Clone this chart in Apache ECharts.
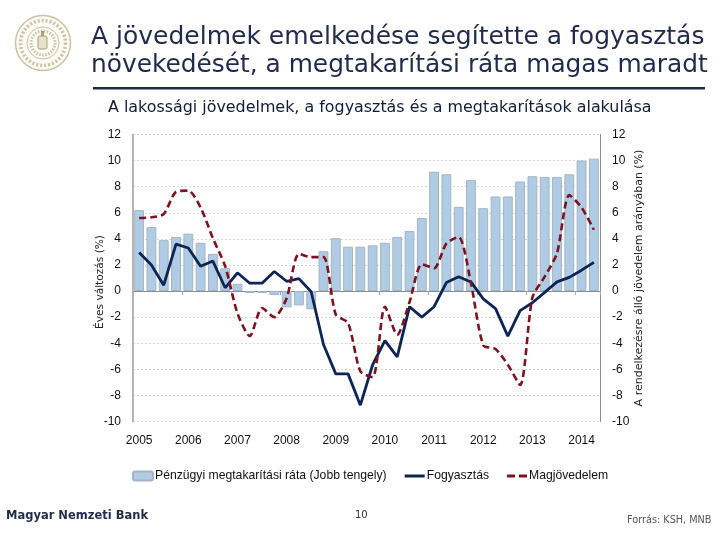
<!DOCTYPE html>
<html><head><meta charset="utf-8">
<style>html,body{margin:0;padding:0;background:#fff}#c{width:720px;height:540px}</style>
<script src="https://cdn.jsdelivr.net/npm/echarts@6/dist/echarts.min.js"></script>
</head><body><div id="c"></div>
<script>
const years = ['2005','2006','2007','2008','2009','2010','2011','2012','2013','2014'];
const categories = years.flatMap(y => [y, y+' Q2', y+' Q3', y+' Q4']).slice(0, 38);
const savingsRate = [6.2,4.9,3.9,4.15,4.4,3.7,2.85,1.75,0.55,-0.15,-0.15,-0.3,-1.25,-1.1,-1.4,3.05,4.05,3.4,3.4,3.5,3.7,4.15,4.6,5.6,9.15,8.95,6.45,8.5,6.35,7.25,7.25,8.4,8.8,8.75,8.75,8.95,10,10.15];
const consumption = [2.95,2.0,0.45,3.6,3.3,1.9,2.3,0.25,1.4,0.6,0.6,1.5,0.75,0.95,-0.05,-4.1,-6.35,-6.35,-8.75,-5.65,-3.8,-5.05,-1.2,-2.0,-1.2,0.65,1.1,0.7,-0.6,-1.35,-3.45,-1.5,-0.9,-0.1,0.7,1.05,1.6,2.2];
const coreIncome = [5.6,5.65,5.9,7.6,7.7,6.4,4.05,1.9,-1.7,-3.45,-1.3,-2,-0.55,2.85,2.6,2.6,-1.8,-2.45,-6.15,-6.6,-1.2,-3.35,-0.85,2.05,1.75,3.65,4.15,0.6,-4.15,-4.45,-5.65,-7.2,-0.5,1.1,2.9,7.35,6.4,4.7];
const seriesNames = ['Pénzügyi megtakarítási ráta (Jobb tengely)','Fogyasztás','Magjövedelem'];

const navy='#1F2A4D', tan='#C9C2A3';
const chart = echarts.init(document.getElementById('c'), null, {renderer:'canvas'});
const valueAxis = (pos, name, gap, lineW, lineC) => ({
  type:'value', position:pos, min:-10, max:12, interval:2,
  name, nameLocation:'middle', nameGap:gap, nameRotate:90, nameMoveOverlap:false,
  nameTextStyle:{fontFamily:'DejaVu Sans',fontSize:pos==='left'?10.6:11,color:'#222',
    padding:pos==='left'?[0,8,0,0]:0},
  axisLine:{show:true,lineStyle:{color:lineC,width:lineW}},
  axisTick:{show:false},
  axisLabel:{color:'#111',fontFamily:'Liberation Sans',fontSize:12,margin:12},
  splitLine:{show:pos==='left',lineStyle:{color:'#D6D6D6',type:[2,2],width:1}}
});
chart.setOption({
  animation:false,
  backgroundColor:'#fff',
  grid:{left:133,right:120,top:134.5,bottom:118.5},
  legend:{
    left:127, top:465, itemWidth:20, itemHeight:9, itemGap:18,
    data:[
      {name:seriesNames[0]},
      {name:seriesNames[1],icon:'path://M0,0h20v3h-20z'},
      {name:seriesNames[2],icon:'path://M0,0h8v3h-8zM12,0h8v3h-8z'}
    ],
    textStyle:{fontFamily:'Liberation Sans',fontSize:12.2,color:'#111',padding:[0,0,0,-3]}
  },
  xAxis:[
    {type:'category',data:categories,position:'bottom',
     axisLine:{show:false,onZero:false},axisTick:{show:false},
     axisLabel:{interval:3,color:'#111',fontFamily:'Liberation Sans',fontSize:12,margin:13,hideOverlap:false,
       formatter:v=>v.slice(0,4)},
     splitLine:{show:false}},
    {type:'category',data:categories,position:'bottom',
     axisLine:{show:true,onZero:true,onZeroAxisIndex:0,lineStyle:{color:'#8C8C8C',width:1}},
     axisTick:{show:true,interval:3,length:4,alignWithLabel:false,lineStyle:{color:'#A8A8A8'}},
     axisLabel:{show:false},splitLine:{show:false}}
  ],
  yAxis:[
    valueAxis('left','Éves változás (%)',27,2,'#B5B5B5'),
    valueAxis('right','A rendelkezésre álló jövedelem arányában (%)',34,1,'#8C8C8C')
  ],
  series:[
    {name:seriesNames[0],type:'bar',xAxisIndex:0,yAxisIndex:1,data:savingsRate,barCategoryGap:'20%',
     itemStyle:{color:'#B0CCE4',borderColor:'#A3B4C4',borderWidth:1},z:1},
    {name:seriesNames[1],type:'line',xAxisIndex:0,yAxisIndex:0,data:consumption,showSymbol:false,symbol:'none',
     lineStyle:{color:'#0C2456',width:2.8},itemStyle:{color:'#0C2456'},z:3},
    {name:seriesNames[2],type:'line',xAxisIndex:0,yAxisIndex:0,data:coreIncome,showSymbol:false,symbol:'none',smooth:0.25,
     lineStyle:{color:'#7D1220',width:2.6,type:[7,4]},itemStyle:{color:'#7D1220'},z:4}
  ],
  graphic:[
    {type:'text',left:91,top:25,style:{text:'A jövedelmek emelkedése segítette a fogyasztás',font:'25px "DejaVu Sans"',fill:navy}},
    {type:'text',left:91,top:53,style:{text:'növekedését, a megtakarítási ráta magas maradt',font:'24.85px "DejaVu Sans"',fill:navy}},
    {type:'rect',shape:{x:93,y:87,width:612,height:2.5},style:{fill:navy}},
    {type:'text',left:108,top:100,style:{text:'A lakossági jövedelmek, a fogyasztás és a megtakarítások alakulása',font:'15.9px "DejaVu Sans"',fill:'#111B3A'}},
    {type:'text',left:6,top:510,style:{text:'Magyar Nemzeti Bank',font:'bold 11.5px "DejaVu Sans"',fill:navy}},
    {type:'text',left:355,top:510,style:{text:'10',font:'10px "DejaVu Sans"',fill:'#333'}},
    {type:'text',left:627,top:515,style:{text:'Forrás: KSH, MNB',font:'9.7px "DejaVu Sans"',fill:'#555'}},
    {type:'circle',shape:{cx:43,cy:43,r:27.5},style:{fill:'#FBFAF5',stroke:tan,lineWidth:1.5}},
    {type:'circle',shape:{cx:43,cy:43,r:22.5},style:{fill:'none',stroke:tan,lineWidth:3.5,lineDash:[2,2]}},
    {type:'circle',shape:{cx:43,cy:43,r:16},style:{fill:'none',stroke:tan,lineWidth:1}},
    {type:'circle',shape:{cx:43,cy:43,r:12},style:{fill:'none',stroke:tan,lineWidth:3,lineDash:[1.5,1.5]}},
    {type:'rect',shape:{x:38,y:36,width:9,height:13,r:2},style:{fill:'#E8E2C8',stroke:'#A89F78',lineWidth:1}},
    {type:'rect',shape:{x:41,y:31,width:3,height:5},style:{fill:'#A89F78'}}
  ]
});
</script></body></html>
